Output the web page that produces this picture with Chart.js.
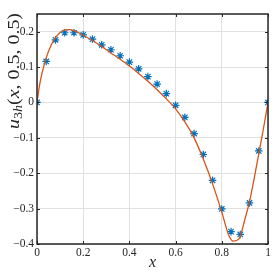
<!DOCTYPE html>
<html><head><meta charset="utf-8">
<script src="https://cdn.jsdelivr.net/npm/chart.js@4"></script>
<style>html,body{margin:0;padding:0;background:#fff}#w{width:275px;height:272px}</style>
</head><body><div id="w"><canvas id="c"></canvas></div>
<script>
const markerX = [0,0.04,0.08,0.12,0.16,0.20,0.24,0.28,0.32,0.36,0.40,0.44,0.48,0.52,0.56,0.60,0.64,0.68,0.72,0.76,0.80,0.84,0.88,0.92,0.96,1.0];
const markerY = [0,0.116,0.177,0.197,0.197,0.191,0.179,0.163,0.149,0.132,0.114,0.095,0.073,0.052,0.025,-0.008,-0.042,-0.088,-0.147,-0.220,-0.301,-0.365,-0.373,-0.284,-0.137,0];
const lineX = [0,0.01,0.02,0.04,0.06,0.08,0.10,0.12,0.14,0.16,0.20,0.24,0.28,0.32,0.36,0.40,0.44,0.48,0.52,0.56,0.60,0.64,0.68,0.72,0.76,0.80,0.83,0.85,0.875,0.90,0.92,0.94,0.96,0.98,1.0];
const lineY = [0,0.045,0.078,0.126,0.16,0.183,0.198,0.205,0.206,0.203,0.190,0.175,0.158,0.140,0.122,0.103,0.082,0.060,0.036,0.010,-0.018,-0.055,-0.100,-0.160,-0.230,-0.310,-0.375,-0.392,-0.385,-0.330,-0.280,-0.215,-0.145,-0.075,0];
const xTicks = [0,0.2,0.4,0.6,0.8,1];
const yTicks = [-0.4,-0.3,-0.2,-0.1,0,0.1,0.2];

const fmt = v => { let s = (Math.round(v*10)/10).toString(); return s.replace('-', '\u2212'); };
const SERIF = '"Liberation Serif", "DejaVu Serif", serif';

const frame = {
  id: 'frame',
  afterDatasetsDraw(chart) {
    const {ctx, chartArea: a, scales} = chart;
    ctx.save();
    ctx.strokeStyle = '#262626';
    ctx.lineWidth = 1;
    const tl = 3;
    for (const v of xTicks) {
      const px = Math.round(scales.x.getPixelForValue(v)) + 0.5;
      ctx.beginPath();
      ctx.moveTo(px, a.bottom); ctx.lineTo(px, a.bottom - tl);
      ctx.moveTo(px, a.top); ctx.lineTo(px, a.top + tl);
      ctx.stroke();
    }
    for (const v of yTicks) {
      const py = Math.round(scales.y.getPixelForValue(v)) + 0.5;
      ctx.beginPath();
      ctx.moveTo(a.left, py); ctx.lineTo(a.left + tl, py);
      ctx.moveTo(a.right, py); ctx.lineTo(a.right - tl, py);
      ctx.stroke();
    }
    ctx.lineWidth = 1.5;
    ctx.strokeRect(a.left, a.top, a.right - a.left, a.bottom - a.top);
    // x label
    ctx.fillStyle = '#262626';
    ctx.font = 'italic 16px ' + SERIF;
    ctx.textAlign = 'center'; ctx.textBaseline = 'middle';
    ctx.fillText('x', (a.left + a.right) / 2, 263);
    // y label
    const parts = [
      {t:'u', f:'italic 17px ', dy:0},
      {t:'3', f:'12px ', dy:3},
      {t:'h', f:'italic 12px ', dy:3},
      {t:'(', f:'17px ', dy:0},
      {t:'x', f:'italic 17px ', dy:0},
      {t:', 0.5, 0.5)', f:'17px ', dy:0}
    ];
    let total = 0;
    for (const p of parts) { ctx.font = p.f + SERIF; p.w = ctx.measureText(p.t).width; total += p.w; }
    const k = 116 / total;
    ctx.translate(14, 71);
    ctx.rotate(-Math.PI / 2);
    ctx.scale(k, 1);
    ctx.textAlign = 'left'; ctx.textBaseline = 'alphabetic';
    let x = -total / 2;
    for (const p of parts) { ctx.font = p.f + SERIF; ctx.fillText(p.t, x, 5 + p.dy); x += p.w; }
    ctx.restore();
  }
};

new Chart(document.getElementById('c'), {
  type: 'scatter',
  data: {
    datasets: [
      { data: markerX.map((x, i) => ({x, y: markerY[i]})), pointStyle: 'star', pointRadius: 3.8,
        borderColor: '#0072BD', backgroundColor: '#0072BD', borderWidth: 1.2, showLine: false, order: 2 },
      { data: lineX.map((x, i) => ({x, y: lineY[i]})), showLine: true, pointRadius: 0,
        borderColor: '#D95319', borderWidth: 1.3, tension: 0.3, cubicInterpolationMode: 'monotone', order: 1 }
    ]
  },
  options: {
    responsive: true, maintainAspectRatio: false, animation: false,
    layout: { padding: { top: 14, right: 7, left: 0, bottom: 0 } },
    plugins: { legend: { display: false }, tooltip: { enabled: false } },
    scales: {
      x: {
        type: 'linear', min: 0, max: 1,
        afterBuildTicks: s => { s.ticks = xTicks.map(v => ({value: v})); },
        afterFit: s => { s.height = 28; },
        grid: { color: '#e0e0e0', lineWidth: 1, drawTicks: false },
        border: { display: false },
        ticks: { padding: 2, color: '#262626', font: { family: SERIF, size: 11.5 }, callback: v => fmt(v), maxRotation: 0 }
      },
      y: {
        type: 'linear', min: -0.4, max: 0.25,
        afterBuildTicks: s => { s.ticks = yTicks.map(v => ({value: v})); },
        afterFit: s => { s.width = 37; },
        grid: { color: '#e0e0e0', lineWidth: 1, drawTicks: false },
        border: { display: false },
        ticks: { padding: 3, color: '#262626', font: { family: SERIF, size: 11.5 }, callback: v => fmt(v) }
      }
    }
  },
  plugins: [frame]
});
</script></body></html>
